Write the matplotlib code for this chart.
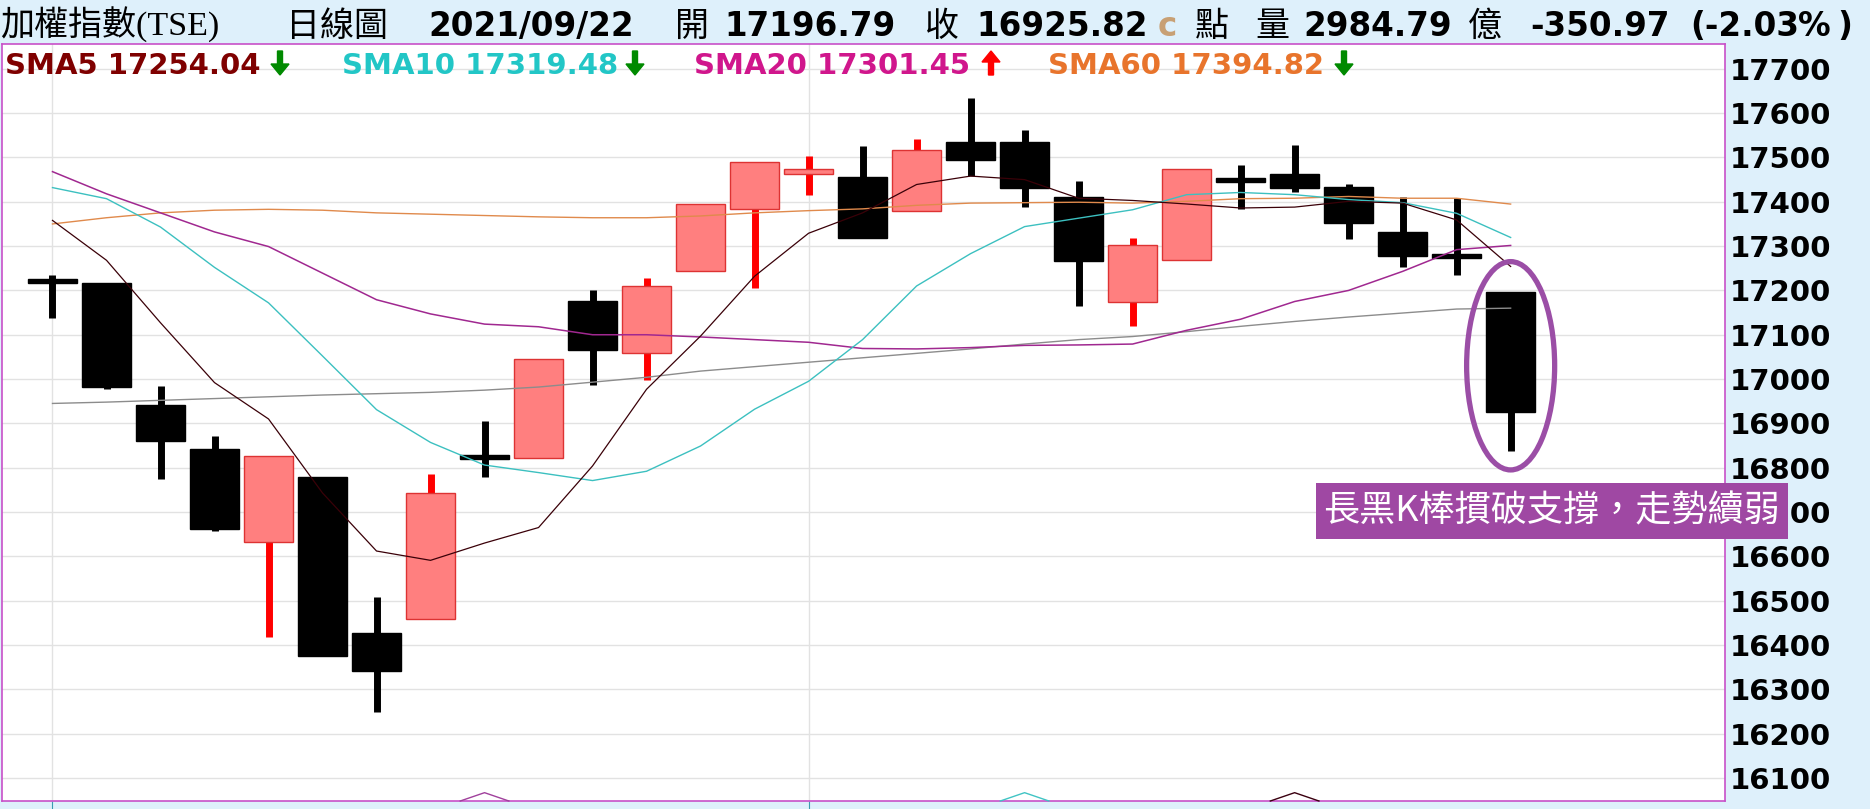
#! /usr/bin/env python
# -*- coding: utf-8 -*-

# TAIEX daily candlestick chart (2021/09/22) with SMA lines and a note

import numpy as np
import matplotlib
matplotlib.use("Agg")
import matplotlib.pyplot as plt
from matplotlib.patches import Ellipse, Rectangle, FancyArrow
from matplotlib.transforms import blended_transform_factory, IdentityTransform

plt.rcParams['font.family'] = ['DejaVu Sans', 'Noto Sans CJK TC']

# daily OHLC
opens = [17223, 17217, 16942, 16842, 16633, 16779, 16428, 16459, 16826, 16821,
         17177, 17059, 17244, 17384, 17463, 17457, 17380, 17535, 17536, 17411,
         17174, 17269, 17450, 17462, 17433, 17332, 17278, 17196.79]
highs = [17234, 17217, 16984, 16872, 16827, 16779, 16509, 16786, 16905, 17046,
         17202, 17229, 17396, 17490, 17504, 17525, 17541, 17635, 17561, 17447,
         17319, 17474, 17484, 17529, 17440, 17410, 17408, 17196.79]
lows = [17138, 16978, 16774, 16658, 16418, 16376, 16248, 16459, 16780, 16821,
        16986, 16998, 17244, 17205, 17415, 17318, 17380, 17458, 17388, 17165,
        17120, 17269, 17384, 17422, 17315, 17252, 17234, 16838]
closes = [17221, 16981, 16860, 16662, 16827, 16376, 16342, 16742, 16824, 17046,
          17065, 17210, 17395, 17490, 17474, 17318, 17517, 17495, 17430, 17267,
          17302, 17474, 17448, 17432, 17351, 17277, 17276, 16925.82]

# moving averages
sma5 = [17358, 17268, 17127, 16992, 16910, 16743, 16612, 16591, 16630, 16665,
        16804, 16977, 17097, 17232, 17329, 17375, 17439, 17458, 17450, 17408,
        17403, 17395, 17386, 17388, 17401, 17397, 17359, 17254.04]
sma10 = [17432, 17407, 17343, 17252, 17172, 17052, 16931, 16857, 16806, 16789,
         16771, 16792, 16849, 16932, 16995, 17089, 17210, 17283, 17344, 17363,
         17382, 17416, 17421, 17416, 17405, 17398, 17374, 17319.48]
sma20 = [17468, 17418, 17375, 17332, 17299, 17239, 17179, 17147, 17124, 17118,
         17100, 17100, 17095, 17089, 17083, 17069, 17068, 17071, 17076, 17077,
         17079, 17110, 17135, 17175, 17200, 17243, 17292, 17301.45]
sma60 = [17350, 17364, 17375, 17381, 17383, 17381, 17375, 17372, 17369, 17366,
         17364, 17364, 17368, 17375, 17380, 17384, 17392, 17397, 17398, 17399,
         17397, 17401, 17407, 17408, 17412, 17408, 17408, 17394.82]
sma_long = [16945, 16948, 16952, 16956, 16960, 16964, 16967, 16970, 16975, 16982,
            16993, 17004, 17018, 17028, 17038, 17048, 17058, 17068, 17079, 17089,
            17096, 17107, 17119, 17130, 17140, 17149, 17158, 17160]

month_starts = [0, 14]
bump_days = [8, 18, 23]
bump_colors = ['#a0409c', '#40c4c4', '#3a0010']

legend_labels = ["SMA5 17254.04", "SMA10 17319.48", "SMA20 17301.45", "SMA60 17394.82"]
legend_colors = ['#7f0000', '#22c6c6', '#d0168c', '#e8742c']
legend_trend = [-1, -1, 1, -1]

W, H = 1870, 809
BG = '#def0fb'

fig = plt.figure(figsize=(W / 100, H / 100), dpi=100, facecolor=BG)
ax = fig.add_axes([2 / W, 8 / H, (1724.5 - 2) / W, (801 - 44) / H])
ax.set_facecolor('white')

o = np.array(opens)
c = np.array(closes)
hi = np.array(highs)
lo = np.array(lows)
idx = np.arange(len(o))
up = c > o

# wicks
wick_colors = np.where(up, '#ff0000', '#000000')
ax.vlines(idx, lo, hi, colors=wick_colors, lw=5, zorder=2)

# bodies (doji get a thin bar)
min_h = 9
body_h = np.abs(c - o)
body_b = np.minimum(o, c)
thin = body_h < min_h
body_b = np.where(thin, (o + c) / 2 - min_h / 2, body_b)
body_h = np.where(thin, min_h, body_h)
face = np.where(up, '#ff7f7f', '#000000')
edge = np.where(up, '#dd3333', '#000000')
ax.bar(idx, body_h, width=0.92, bottom=body_b, color=face, edgecolor=edge,
       linewidth=1, zorder=3)

# moving averages
ax.plot(idx, sma_long, color='#8c8c8c', lw=1, zorder=4)
ax.plot(idx, sma60, color='#e08a4c', lw=1, zorder=4)
ax.plot(idx, sma20, color='#a02890', lw=1.1, zorder=4)
ax.plot(idx, sma10, color='#3cc0c0', lw=1, zorder=4)
ax.plot(idx, sma5, color='#3a0008', lw=0.9, zorder=4)

# small bumps of the lower indicator at the very bottom
trans = blended_transform_factory(ax.transData, ax.transAxes)
for d, col in zip(bump_days, bump_colors):
    ax.plot([d - 0.45, d, d + 0.45], [0.0, 0.011, 0.0], color=col, lw=1,
            transform=trans, clip_on=False, zorder=5)

ax.set_xlim(-0.935, 30.96)
ax.set_ylim(16048, 17756)
ax.set_yticks(np.arange(16100, 17701, 100))
ax.set_xticks(month_starts)
ax.set_xticklabels([])
ax.yaxis.tick_right()
ax.tick_params(axis='y', length=0, pad=3.5, labelsize=21)
ax.tick_params(axis='x', length=6, color='#3a9cb0', direction='out')
for lab in ax.get_yticklabels():
    lab.set_fontweight('bold')
ax.grid(True, color='#e2e2e2', lw=1, zorder=0)
ax.set_axisbelow(True)
for sp in ax.spines.values():
    sp.set_color('#c850c8')
    sp.set_linewidth(1.2)

# annotation: ellipse around the last candle and note box
ax.add_patch(Ellipse((27, 17030), 1.63, 470, fill=False, ec='#9b4ea6',
                     lw=3.8, zorder=6))
ax.add_patch(Rectangle((23.4, 16639), 8.74, 126, fc='#9f48a3', ec='none',
                       clip_on=False, zorder=9))
ax.text(27.76, 16702, "長黑K棒摜破支撐，走勢續弱", color='white', fontsize=26,
        family=['Noto Sans CJK TC', 'DejaVu Sans'], ha='center', va='center',
        clip_on=False, zorder=10)

# header line
cjk = ['Liberation Serif', 'Noto Sans CJK TC']
hy = 1 - 36 / H
header = [(0, "加權指數(TSE)", False, 'black', 'left'),
          (286, "日線圖", False, 'black', 'left'),
          (531, "2021/09/22", True, 'black', 'center'),
          (675, "開", False, 'black', 'left'),
          (810, "17196.79", True, 'black', 'center'),
          (925, "收", False, 'black', 'left'),
          (1062, "16925.82", True, 'black', 'center'),
          (1158, "c", True, '#c8a074', 'left'),
          (1195, "點", False, 'black', 'left'),
          (1255, "量", False, 'black', 'left'),
          (1378, "2984.79", True, 'black', 'center'),
          (1468, "億", False, 'black', 'left'),
          (1600, "-350.97", True, 'black', 'center'),
          (1690, "(-2.03", True, 'black', 'left'),
          (1814, "%", True, 'black', 'center'),
          (1837, ")", True, 'black', 'left')]
for x, s, bold, col, ha in header:
    if bold:
        fig.text(x / W, hy, s, fontsize=23.5, fontweight='bold', color=col,
                 family=['DejaVu Sans'], va='baseline', ha=ha)
    else:
        fig.text(x / W, hy, s, fontsize=24.5, color=col, family=cjk,
                 va='baseline', ha=ha)

# SMA legend row with trend arrows
ly = 1 - 74 / H
lx = [5, 342, 694, 1048]
arrow_x = [280, 635, 991, 1344]
for x, xa, s, col, tr in zip(lx, arrow_x, legend_labels, legend_colors,
                             legend_trend):
    fig.text(x / W, ly, s, fontsize=21, fontweight='bold', color=col,
             va='baseline')
    acol = '#ff0000' if tr > 0 else '#008a00'
    y0 = H - 75 if tr > 0 else H - 51
    fig.patches.append(FancyArrow(xa, y0, 0, 24 * tr, width=5, head_width=18,
                                  head_length=11, length_includes_head=True,
                                  color=acol, transform=IdentityTransform(),
                                  figure=fig))

fig.savefig('out.png', dpi=100, facecolor=BG)
